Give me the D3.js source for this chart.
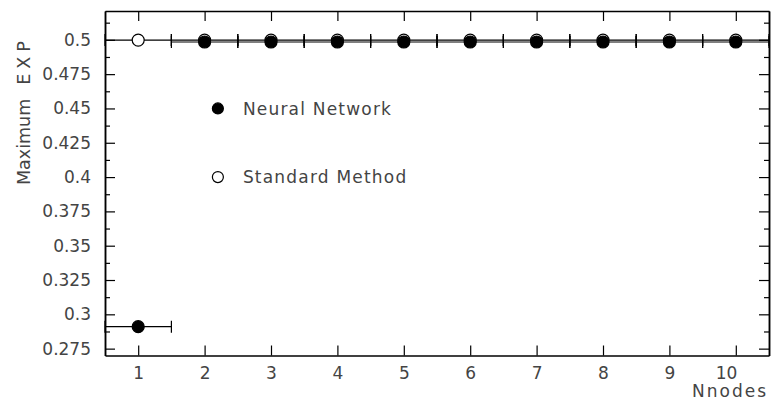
<!DOCTYPE html>
<html>
<head>
<meta charset="utf-8">
<script src="https://cdn.jsdelivr.net/npm/d3@7"></script>
<style>
body { margin: 0; background: #fff; }
text { font-family: "DejaVu Sans", sans-serif; font-weight: normal; fill: #444; }
.domain { stroke: #000; stroke-width: 1.5; }
.tick line { stroke: #000; stroke-width: 1.2; }
</style>
</head>
<body>
<svg id="chart" width="773" height="416"></svg>
<script>
//Chart data
var nodes = [1, 2, 3, 4, 5, 6, 7, 8, 9, 10];
var neuralValues = [0.291, 0.4984, 0.4984, 0.4984, 0.4984, 0.4984, 0.4984, 0.4984, 0.4984, 0.4984];
var standardValues = [0.4998, 0.4998, 0.4998, 0.4998, 0.4998, 0.4998, 0.4998, 0.4998, 0.4998, 0.4998];
var xError = 0.5;
var yMajorTicks = [0.275, 0.3, 0.325, 0.35, 0.375, 0.4, 0.425, 0.45, 0.475, 0.5];
var yTickLabels = ["0.275", "0.3", "0.325", "0.35", "0.375", "0.4", "0.425", "0.45", "0.475", "0.5"];
var yMinorTicks = [0.2875, 0.3125, 0.3375, 0.3625, 0.3875, 0.4125, 0.4375, 0.4625, 0.4875, 0.5125];
var legendNames = ["Neural Network", "Standard Method"];
var legendX = 2.2;
var legendY = [0.45, 0.4];

var svg = d3.select("#chart");

//Scales
var xScale = d3.scaleLinear().domain([0.5, 10.5]).range([105, 769]);
var yScale = d3.scaleLinear().domain([0.27, 0.521]).range([355.5, 11]);

//Axes, ticks pointing into the frame
svg.append("g")
	.attr("transform", "translate(0," + yScale.range()[0] + ")")
	.call(d3.axisBottom(xScale).tickValues(nodes).tickSizeInner(-10).tickSizeOuter(0).tickPadding(11).tickFormat(d3.format("d")));

svg.append("g")
	.attr("transform", "translate(0," + yScale.range()[1] + ")")
	.call(d3.axisTop(xScale).tickValues(nodes).tickSizeInner(-10).tickSizeOuter(0).tickFormat(""));

svg.append("g")
	.attr("transform", "translate(" + xScale.range()[0] + ",0)")
	.call(d3.axisLeft(yScale).tickValues(yMajorTicks).tickSizeInner(-10).tickSizeOuter(0).tickPadding(14)
		.tickFormat(function(d, i) { return yTickLabels[i]; }));

svg.append("g")
	.attr("transform", "translate(" + xScale.range()[0] + ",0)")
	.call(d3.axisLeft(yScale).tickValues(yMinorTicks).tickSizeInner(-5).tickSizeOuter(0).tickFormat(""));

svg.append("g")
	.attr("transform", "translate(" + xScale.range()[1] + ",0)")
	.call(d3.axisRight(yScale).tickValues(yMajorTicks).tickSizeInner(-10).tickSizeOuter(0).tickFormat(""));

svg.append("g")
	.attr("transform", "translate(" + xScale.range()[1] + ",0)")
	.call(d3.axisRight(yScale).tickValues(yMinorTicks).tickSizeInner(-5).tickSizeOuter(0).tickFormat(""));

svg.selectAll("g").attr("font-family", null).attr("font-size", null);
svg.selectAll(".tick text")
	.style("font-size", "17px")
	.attr("fill", null);

//the two-digit label sits left of its tick in the original
svg.selectAll(".tick text")
	.filter(function(d) { return d === 10; })
	.attr("text-anchor", "end")
	.attr("dx", 1);

//Axis titles
svg.append("text")
	.attr("x", 768)
	.attr("y", 397)
	.attr("text-anchor", "end")
	.style("font-size", "17px")
	.style("letter-spacing", "2px")
	.text("Nnodes");

var yTitle = svg.append("text")
	.attr("transform", "translate(30,185) rotate(-90)")
	.style("font-size", "17.5px");
yTitle.append("tspan").text("Maximum");
yTitle.append("tspan").attr("dx", 14).style("letter-spacing", "5px").text("EXP");

//Error bars and markers for one series
function drawSeries(values, filled) {
	var g = svg.append("g");
	var cap = 6;
	nodes.forEach(function(n, i) {
		var y = yScale(values[i]);
		g.append("line")
			.attr("x1", xScale(n - xError)).attr("x2", xScale(n + xError))
			.attr("y1", y).attr("y2", y)
			.attr("stroke", "#000").attr("stroke-width", 1.2);
		[n - xError, n + xError].forEach(function(e) {
			g.append("line")
				.attr("x1", xScale(e)).attr("x2", xScale(e))
				.attr("y1", y - cap).attr("y2", y + cap)
				.attr("stroke", "#000").attr("stroke-width", 1.2);
		});
	});
	g.selectAll("circle")
		.data(values)
		.enter()
		.append("circle")
		.attr("cx", function(d, i) { return xScale(nodes[i]); })
		.attr("cy", function(d) { return yScale(d); })
		.attr("r", 6)
		.attr("fill", filled ? "#000" : "#fff")
		.attr("stroke", "#000")
		.attr("stroke-width", 1.2);
}

drawSeries(standardValues, false);
drawSeries(neuralValues, true);

//Legend
var legend = svg.append("g");
legendNames.forEach(function(name, i) {
	legend.append("circle")
		.attr("cx", xScale(legendX))
		.attr("cy", yScale(legendY[i]))
		.attr("r", 5.5)
		.attr("fill", i == 0 ? "#000" : "#fff")
		.attr("stroke", "#000")
		.attr("stroke-width", 1.2);
	legend.append("text")
		.attr("x", xScale(legendX) + 25)
		.attr("y", yScale(legendY[i]))
		.attr("dy", "0.36em")
		.style("font-size", "17px")
		.style("letter-spacing", "1.2px")
		.text(name);
});
</script>
</body>
</html>
